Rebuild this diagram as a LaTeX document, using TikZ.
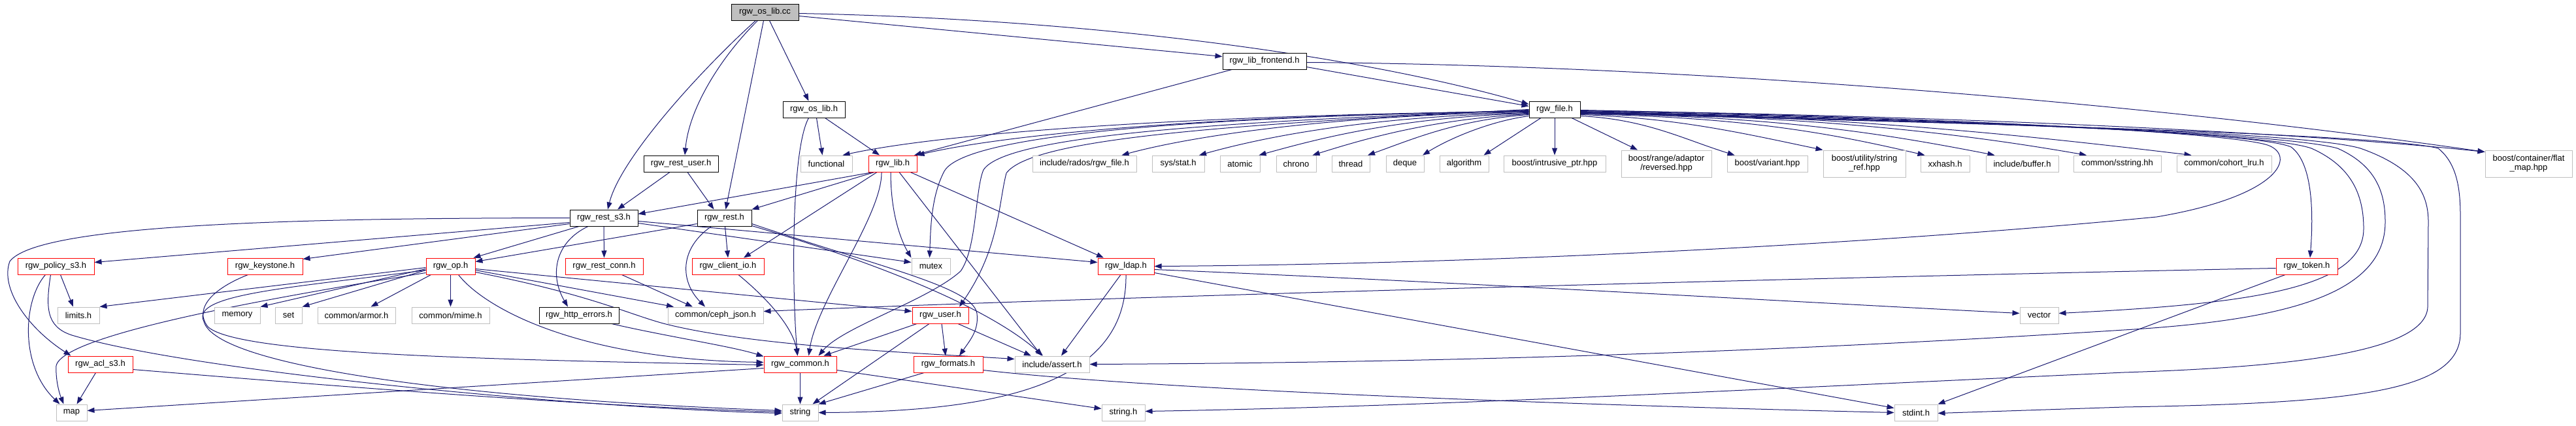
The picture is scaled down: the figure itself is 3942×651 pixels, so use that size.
\documentclass[tikz,border=0pt]{standalone}
\usepackage{fontspec}
\setmainfont{Liberation Sans}
\usetikzlibrary{arrows.meta}
\definecolor{edgec}{HTML}{191970}
\definecolor{extc}{HTML}{BFBFBF}
\definecolor{rootc}{HTML}{BFBFBF}
\definecolor{truncc}{HTML}{FF0000}
\pgfdeclarelayer{background}
\pgfsetlayers{background,main}
\tikzset{
 nb/.style={rectangle, minimum height=25pt, inner sep=0pt, font=\fontsize{13}{14}\selectfont, line width=1pt, fill=white, align=center},
 ext/.style={nb, draw=extc},
 doc/.style={nb, draw=black},
 trunc/.style={nb, draw=truncc},
 root/.style={nb, draw=black, fill=rootc},
 two/.style={minimum height=41pt},
 dep/.style={draw=edgec, line width=1pt, -{Triangle[length=11pt,width=8pt]}},
}
\begin{document}
\begin{tikzpicture}[x=1pt,y=-1pt]
\useasboundingbox (0,0) rectangle (3942,651);
\begin{pgfonlayer}{background}
\fill[white] (0,0) rectangle (3942,651);
\end{pgfonlayer}
% nodes
\node[root, minimum width=103pt] (cc) at (1170.5,18.5) {rgw\_os\_lib.cc};
\node[doc, minimum width=128pt] (frontend) at (1935,93.5) {rgw\_lib\_frontend.h};
\node[doc, minimum width=95pt] (oslibh) at (1245.5,167.5) {rgw\_os\_lib.h};
\node[doc, minimum width=78pt] (fileh) at (2379,167.5) {rgw\_file.h};
\node[doc, minimum width=114pt] (restuser) at (1042,250.5) {rgw\_rest\_user.h};
\node[ext, minimum width=79pt] (functional) at (1264.5,250.5) {functional};
\node[trunc, minimum width=74pt] (libh) at (1366,250.5) {rgw\_lib.h};
\node[ext, minimum width=159pt] (radosfile) at (1659.5,250.5) {include/rados/rgw\_file.h};
\node[ext, minimum width=80pt] (sysstat) at (1803,250.5) {sys/stat.h};
\node[ext, minimum width=61pt] (atomic) at (1897.5,250.5) {atomic};
\node[ext, minimum width=61pt] (chrono) at (1983.5,250.5) {chrono};
\node[ext, minimum width=58pt] (thread) at (2067,250.5) {thread};
\node[ext, minimum width=58pt] (deque) at (2150,250.5) {deque};
\node[ext, minimum width=75pt] (algorithm) at (2240.5,250.5) {algorithm};
\node[ext, minimum width=156pt] (intrusive) at (2379,250.5) {boost/intrusive\_ptr.hpp};
\node[ext, two, minimum width=138pt] (reversed) at (2550,250.5) {boost/range/adaptor\\/reversed.hpp};
\node[ext, minimum width=123pt] (variant) at (2704.5,250.5) {boost/variant.hpp};
\node[ext, two, minimum width=126pt] (stringref) at (2853,250.5) {boost/utility/string\\\_ref.hpp};
\node[ext, minimum width=75pt] (xxhash) at (2976.5,250.5) {xxhash.h};
\node[ext, minimum width=111pt] (buffer) at (3094.5,250.5) {include/buffer.h};
\node[ext, minimum width=134pt] (sstring) at (3240,250.5) {common/sstring.hh};
\node[ext, minimum width=145pt] (cohort) at (3403.5,250.5) {common/cohort\_lru.h};
\node[ext, two, minimum width=133pt] (flatmap) at (3869.5,250.5) {boost/container/flat\\\_map.hpp};
\node[doc, minimum width=104pt] (rests3) at (924,333.5) {rgw\_rest\_s3.h};
\node[doc, minimum width=83pt] (resth) at (1108.5,333.5) {rgw\_rest.h};
\node[trunc, minimum width=117pt] (policy) at (85.5,407.5) {rgw\_policy\_s3.h};
\node[trunc, minimum width=115pt] (keystone) at (405.5,407.5) {rgw\_keystone.h};
\node[trunc, minimum width=75pt] (oph) at (689.5,407.5) {rgw\_op.h};
\node[trunc, minimum width=119pt] (restconn) at (924.5,407.5) {rgw\_rest\_conn.h};
\node[trunc, minimum width=110pt] (clientio) at (1114,407.5) {rgw\_client\_io.h};
\node[ext, minimum width=59pt] (mutex) at (1424.5,407.5) {mutex};
\node[trunc, minimum width=86pt] (ldap) at (1723,407.5) {rgw\_ldap.h};
\node[trunc, minimum width=94pt] (token) at (3530,407.5) {rgw\_token.h};
\node[ext, minimum width=64pt] (limits) at (120,482.5) {limits.h};
\node[ext, minimum width=70pt] (memory) at (363,482.5) {memory};
\node[ext, minimum width=41pt] (setn) at (441.5,482.5) {set};
\node[ext, minimum width=119pt] (armor) at (545.5,482.5) {common/armor.h};
\node[ext, minimum width=119pt] (mime) at (689.5,482.5) {common/mime.h};
\node[doc, minimum width=122pt] (httperr) at (886,482.5) {rgw\_http\_errors.h};
\node[ext, minimum width=146pt] (cephjson) at (1095,482.5) {common/ceph\_json.h};
\node[trunc, minimum width=86pt] (userh) at (1439,482.5) {rgw\_user.h};
\node[ext, minimum width=59pt] (vector) at (3120.5,482.5) {vector};
\node[trunc, minimum width=99pt] (acl) at (153.5,557.5) {rgw\_acl\_s3.h};
\node[trunc, minimum width=111pt] (common) at (1224.5,557.5) {rgw\_common.h};
\node[trunc, minimum width=106pt] (formats) at (1451,557.5) {rgw\_formats.h};
\node[ext, minimum width=114pt] (assert) at (1610,557.5) {include/assert.h};
\node[ext, minimum width=47pt] (map) at (109.5,631.5) {map};
\node[ext, minimum width=55pt] (string) at (1224.5,631.5) {string};
\node[ext, minimum width=66pt] (stringh) at (1719,631.5) {string.h};
\node[ext, minimum width=66pt] (stdint) at (2932,631.5) {stdint.h};

\begin{pgfonlayer}{background}
% cc
\draw[dep] ([xshift=-14pt]cc.south) .. controls (1080,100) and (950,240) .. ([xshift=6pt]rests3.north);
\draw[dep] ([xshift=-11pt]cc.south) .. controls (1110,80) and (1055,160) .. ([xshift=6pt]restuser.north);
\draw[dep] ([xshift=-2pt]cc.south) -- ([xshift=2pt]resth.north);
\draw[dep] ([xshift=7pt]cc.south) -- ([xshift=-8pt]oslibh.north);
\draw[dep] ([yshift=-2pt]cc.east) .. controls (1700,30) and (2100,90) .. ([yshift=8pt]fileh.west);
\draw[dep] ([yshift=-6pt]cc.east) -- ([yshift=7pt]frontend.west);
% frontend
\draw[dep] ([xshift=-50pt]frontend.south) -- ([xshift=33pt]libh.north);
\draw[dep] ([yshift=-9pt]frontend.east) -- ([yshift=5pt]fileh.west);
\draw[dep] ([yshift=-2pt]frontend.east) .. controls (2600,100) and (3300,160) .. ([yshift=-3pt]flatmap.north west);
% os_lib.h
\draw[dep] ([xshift=4pt]oslibh.south) -- ([xshift=-6pt]functional.north);
\draw[dep] ([xshift=17pt]oslibh.south) -- ([xshift=-20pt]libh.north);
\draw[dep] ([xshift=-8pt]oslibh.south) .. controls (1210,230) and (1212,450) .. ([xshift=-4pt]common.north);
% rest_user
\draw[dep] ([xshift=-17pt]restuser.south) -- ([xshift=21pt]rests3.north);
\draw[dep] ([xshift=10pt]restuser.south) -- ([xshift=-16pt]resth.north);
% lib.h
\draw[dep] ([xshift=-30pt]libh.south) -- ([yshift=6pt]rests3.east);
\draw[dep] ([xshift=-28pt]libh.south) -- (resth.north east);
\draw[dep] ([xshift=-24pt]libh.south) -- ([xshift=24pt]clientio.north);
\draw[dep] ([xshift=-17pt]libh.south) .. controls (1350,330) and (1250,460) .. ([xshift=13pt]common.north);
\draw[dep] ([xshift=-3pt]libh.south) .. controls (1363,330) and (1380,370) .. (mutex.north west);
\draw[dep] ([xshift=10pt]libh.south) -- ([xshift=-16pt]assert.north);
\draw[dep] ([xshift=27pt]libh.south) -- ([xshift=-34pt]ldap.north);
% file.h left
\draw[dep] ([xshift=-21pt]fileh.south) -- ([xshift=30pt]algorithm.north);
\draw[dep] ([yshift=-10pt]fileh.west) .. controls +(-60,8) and +(40,-25) .. ([xshift=27pt]deque.north);
\draw[dep] ([yshift=-8pt]fileh.west) .. controls +(-110,8) and +(70,-25) .. ([xshift=26pt]thread.north);
\draw[dep] ([yshift=-7pt]fileh.west) .. controls +(-150,8) and +(80,-25) .. ([xshift=25pt]chrono.north);
\draw[dep] ([yshift=-6pt]fileh.west) .. controls +(-200,6) and +(90,-25) .. ([xshift=29pt]atomic.north);
\draw[dep] ([yshift=-5pt]fileh.west) .. controls +(-250,6) and +(100,-28) .. ([xshift=32pt]sysstat.north);
\draw[dep] ([yshift=-4pt]fileh.west) .. controls +(-300,5) and +(110,-30) .. ([xshift=57pt]radosfile.north);
\draw[dep] ([yshift=-3pt]fileh.west) .. controls +(-450,5) and +(150,-35) .. (libh.north east);
\draw[dep] ([yshift=-3pt]fileh.west) .. controls +(-500,5) and +(160,-35) .. ([xshift=25pt]functional.north);
\draw[dep] ([yshift=-2pt]fileh.west) .. controls (1900,178) and (1480,200) .. (1445,262) .. controls (1425,300) and (1424,350) .. ([xshift=-2pt]mutex.north);
\draw[dep] ([yshift=-1pt]fileh.west) .. controls (1900,185) and (1540,205) .. (1505,260) .. controls (1492,290) and (1495,380) .. (1470,415) .. controls (1420,460) and (1290,500) .. ([xshift=28pt]common.north);
\draw[dep] (fileh.west) .. controls (1900,190) and (1580,210) .. (1540,265) .. controls (1528,310) and (1530,380) .. ([xshift=29pt]userh.north);
% file.h right
\draw[dep] (fileh.south) -- (intrusive.north);
\draw[dep] ([xshift=26pt]fileh.south) -- ([xshift=-44pt]reversed.north);
\draw[dep] ([yshift=-10pt]fileh.east) .. controls +(100,5) and +(-80,-25) .. ([xshift=-50pt]variant.north);
\draw[dep] ([yshift=-8pt]fileh.east) .. controls +(150,5) and +(-120,-25) .. (stringref.north west);
\draw[dep] ([yshift=-7pt]fileh.east) .. controls +(250,5) and +(-150,-35) .. ([xshift=-31pt]xxhash.north);
\draw[dep] ([yshift=-6pt]fileh.east) .. controls +(300,5) and +(-180,-35) .. ([xshift=-42pt]buffer.north);
\draw[dep] ([yshift=-5pt]fileh.east) .. controls +(350,5) and +(-200,-35) .. ([xshift=-47pt]sstring.north);
\draw[dep] ([yshift=-4pt]fileh.east) .. controls +(400,5) and +(-250,-30) .. ([xshift=-50pt]cohort.north);
\draw[dep] ([yshift=-2pt]fileh.east) .. controls (2900,175) and (3500,200) .. ([yshift=-3pt]flatmap.north west);
\draw[dep] ([yshift=-1pt]fileh.east) .. controls (2900,178) and (3400,200) .. (3470,222) .. controls (3515,238) and (3490,300) .. (3300,332) .. controls (2800,380) and (2200,405) .. (ldap.east);
\draw[dep] ([yshift=-2pt]fileh.east) .. controls (2900,180) and (3450,200) .. (3506,225) .. controls (3540,250) and (3540,330) .. ([xshift=5pt]token.north);
\draw[dep] ([yshift=-3pt]fileh.east) .. controls (2900,182) and (3460,200) .. (3537,227) .. controls (3600,255) and (3617,300) .. (3617,350) .. controls (3617,440) and (3450,465) .. ([yshift=3pt]vector.east);
\draw[dep] ([yshift=-4pt]fileh.east) .. controls (2900,184) and (3480,200) .. (3577,227) .. controls (3640,255) and (3650,300) .. (3650,340) .. controls (3650,450) and (3500,490) .. (3250,505) .. controls (2700,540) and (2200,555) .. (assert.east);
\draw[dep] ([yshift=-5pt]fileh.east) .. controls (2950,186) and (3520,200) .. (3612,227) .. controls (3700,258) and (3716,300) .. (3716,340) -- (3715,470) .. controls (3712,540) and (3500,562) .. (3250,570) .. controls (2700,595) and (2200,622) .. ([yshift=2pt]stringh.east);
\draw[dep] ([yshift=-6pt]fileh.east) .. controls (3000,188) and (3650,205) .. (3731,227) .. controls (3760,250) and (3765,290) .. (3765,330) -- (3765,510) .. controls (3765,600) and (3600,617) .. (3250,623) -- ([yshift=-1pt]stdint.east);
% rest_s3.h
\draw[dep] (rests3.west) .. controls (500,334) and (60,340) .. (15,400) .. controls (0,440) and (40,500) .. ([xshift=-45pt]acl.north);
\draw[dep] ([yshift=-7pt]rests3.west) -- ([yshift=6pt]policy.east);
\draw[dep] ([yshift=-9pt]rests3.west) -- ([yshift=11pt]keystone.east);
\draw[dep] ([xshift=-38pt]rests3.south) -- ([xshift=-3pt]oph.north east);
\draw[dep] ([xshift=-24pt]rests3.south) .. controls (850,370) and (840,420) .. ([xshift=-17pt]httperr.north);
\draw[dep] (rests3.south) -- (restconn.north);
\draw[dep] ([yshift=-5pt]rests3.east) -- ([yshift=6pt]ldap.west);
\draw[dep] ([yshift=-8pt]rests3.east) -- ([yshift=6pt]mutex.west);
% rest.h
\draw[dep] ([yshift=-9pt]resth.west) -- ([yshift=7pt]oph.east);
\draw[dep] ([xshift=-20pt]resth.south) .. controls (1040,380) and (1040,430) .. ([xshift=-16pt]cephjson.north);
\draw[dep] ([xshift=1pt]resth.south) -- (clientio.north);
\draw[dep] ([yshift=-12pt]resth.east) .. controls (1300,390) and (1500,460) .. ([xshift=-14pt]assert.north);
\draw[dep] ([yshift=-9pt]resth.east) .. controls (1350,410) and (1490,440) .. (1495,480) .. controls (1498,505) and (1485,520) .. ([xshift=17pt]formats.north);
% op.h
\draw[dep] ([yshift=-2pt]oph.west) -- (limits.north east);
\draw[dep] ([yshift=-4pt]oph.west) -- (memory.north east);
\draw[dep] ([yshift=-6pt]oph.west) -- (setn.north east);
\draw[dep] ([xshift=-30pt]oph.south) -- ([xshift=22pt]armor.north);
\draw[dep] (oph.south) -- (mime.north);
\draw[dep] ([yshift=-10pt]oph.west) .. controls (450,450) and (95,510) .. (86,560) .. controls (85,580) and (90,600) .. ([xshift=-12pt]map.north);
\draw[dep] ([yshift=-6pt]oph.west) .. controls (450,440) and (290,450) .. (312,492) .. controls (330,560) and (700,610) .. ([yshift=3pt]string.west);
\draw[dep] ([yshift=-6pt]oph.east) -- ([xshift=-64pt]cephjson.north);
\draw[dep] ([yshift=-4pt]oph.east) -- ([yshift=6pt]userh.west);
\draw[dep] ([yshift=-9pt]oph.east) .. controls (900,450) and (960,480) .. (1015,495) .. controls (1150,530) and (1400,540) .. ([yshift=8pt]assert.west);
\draw[dep] ([xshift=12pt]oph.south) .. controls (740,470) and (880,550) .. ([yshift=3pt]common.west);
% keystone
\draw[dep] ([xshift=-26pt]keystone.south) .. controls (330,440) and (295,470) .. (318,500) .. controls (360,540) and (700,550) .. ([yshift=-1pt]common.west);
% policy
\draw[dep] ([xshift=7pt]policy.south) -- ([xshift=-8pt]limits.north);
\draw[dep] ([xshift=-16pt]policy.south) .. controls (35,460) and (30,560) .. ([xshift=-18pt]map.north);
\draw[dep] ([xshift=-8pt]policy.south) .. controls (70,470) and (70,500) .. (110,513) .. controls (300,570) and (900,625) .. ([yshift=-1pt]string.west);
% acl
\draw[dep] ([xshift=-7pt]acl.south) -- ([xshift=8pt]map.north);
\draw[dep] ([yshift=-8pt]acl.east) .. controls (500,590) and (900,622) .. ([yshift=1pt]string.west);
% misc
\draw[dep] ([xshift=27pt]restconn.south) -- ([xshift=-35pt]cephjson.north);
\draw[dep] ([xshift=16pt]clientio.south) .. controls (1190,470) and (1215,510) .. ([xshift=-4pt]common.north);
\draw[dep] ([xshift=50pt]httperr.south) .. controls (1020,515) and (1120,530) .. ([yshift=-1pt]common.north west);
% user.h
\draw[dep] ([xshift=2pt]userh.south) -- ([xshift=-4pt]formats.north);
\draw[dep] ([xshift=27pt]userh.south) -- ([xshift=-32pt]assert.north);
\draw[dep] ([xshift=-36pt]userh.south) -- ([xshift=36pt]common.north);
\draw[dep] ([xshift=-17pt]userh.south) -- ([xshift=19pt]string.north);
% formats
\draw[dep] ([xshift=-37pt]formats.south) -- (string.north east);
\draw[dep] ([yshift=-9pt]formats.east) .. controls (1800,600) and (2500,622) .. (stdint.west);
% ldap
\draw[dep] ([xshift=-8pt]ldap.south) -- ([xshift=14pt]assert.north);
\draw[dep] (ldap.south) .. controls (1725,580) and (1550,630) .. (string.east);
\draw[dep] ([yshift=-5pt]ldap.east) .. controls (2200,430) and (2800,465) .. ([yshift=3pt]vector.west);
\draw[dep] ([yshift=-10pt]ldap.east) -- ([yshift=7pt]stdint.west);
% token
\draw[dep] ([yshift=-3pt]token.west) .. controls (3000,420) and (1800,450) .. ([yshift=6pt]cephjson.east);
\draw[dep] ([xshift=-33pt]token.south) -- (stdint.north east);
% common
\draw[dep] ([yshift=-6pt]common.west) -- ([yshift=3pt]map.east);
\draw[dep] (common.south) -- (string.north);
\draw[dep] ([yshift=-9pt]common.east) -- ([yshift=6pt]stringh.west);
\end{pgfonlayer}
\end{tikzpicture}
\end{document}
